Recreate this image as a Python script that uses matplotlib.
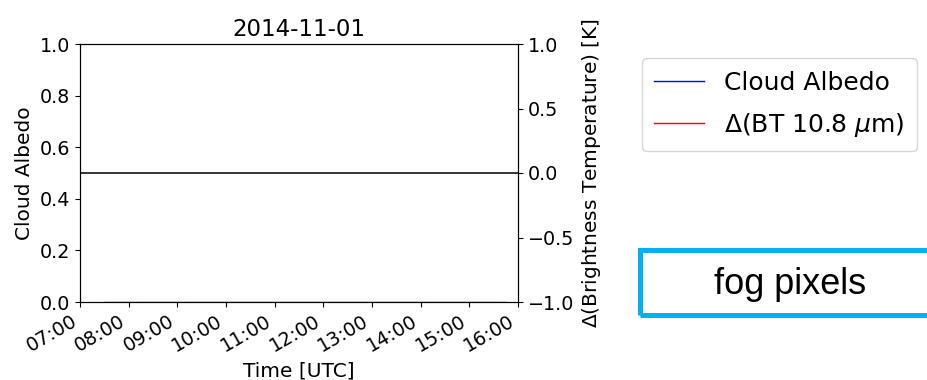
import datetime as dt
import matplotlib
matplotlib.use("Agg")
import matplotlib.pyplot as plt
import matplotlib.dates as mdates
from matplotlib.patches import Rectangle
from matplotlib.lines import Line2D

# ---- data ----
day = "2014-11-01"
obs_times = ["07:30", "07:45", "08:00", "08:15", "08:30", "08:45", "09:00", "09:15",
             "09:30", "09:45", "10:00", "10:15", "10:30", "10:45", "11:00", "11:15",
             "11:30", "11:45", "12:00", "12:15", "12:30", "12:45", "13:00", "13:15",
             "13:30", "13:45", "14:00", "14:15", "14:30", "14:45", "15:00", "15:15",
             "15:30", "15:45"]
cloud_albedo = [0.0] * len(obs_times)
delta_bt = [-1.0] * len(obs_times)
tick_labels = ["07:00", "08:00", "09:00", "10:00", "11:00", "12:00", "13:00",
               "14:00", "15:00", "16:00"]
legend_labels = ["Cloud Albedo", r"$\Delta$(BT 10.8 $\mu$m)"]

def to_dt(hm):
    return dt.datetime.strptime(day + " " + hm, "%Y-%m-%d %H:%M")

t = [to_dt(s) for s in obs_times]
ticks = [to_dt(s) for s in tick_labels]

W, H = 928, 380
fig = plt.figure(figsize=(W / 100, H / 100), dpi=100)
ax = fig.add_axes([80 / W, (H - 302) / H, 438 / W, 258 / H])
ax2 = ax.twinx()

ax.plot(t, cloud_albedo, color="blue", lw=1, alpha=0.5)
ax2.plot(t, delta_bt, color="red", lw=1, alpha=0.5)
ax2.axhline(0.0, color="black", lw=1.1)

ax.set_xlim(ticks[0], ticks[-1])
ax.set_ylim(0, 1)
ax2.set_ylim(-1, 1)
ax.set_yticks([0, 0.2, 0.4, 0.6, 0.8, 1.0])
ax2.set_yticks([-1, -0.5, 0, 0.5, 1.0])
ax.set_xticks(ticks)
ax.xaxis.set_major_formatter(mdates.DateFormatter("%H:%M"))
for lbl in ax.get_xticklabels():
    lbl.set_rotation(30)
    lbl.set_ha("right")
ax.tick_params(labelsize=13.8)
ax2.tick_params(labelsize=13.8)

ax.set_ylabel("Cloud Albedo", fontsize=14.5)
ax2.set_ylabel(r"$\Delta$(Brightness Temperature) [K]", fontsize=14.5)
ax.set_xlabel("Time [UTC]", fontsize=14.5)
ax.set_title(day, fontsize=16.5)

handles = [Line2D([], [], color="blue", lw=1), Line2D([], [], color="red", lw=1)]
fig.legend(handles, legend_labels, loc="upper left",
           bbox_to_anchor=(642 / W, 1 - 58 / H), borderaxespad=0,
           fontsize=18, frameon=True, labelspacing=0.65, borderpad=0.5)

rect = Rectangle((640.5 / W, 1 - 314.5 / H), (940 - 640.5) / W, (314.5 - 249.5) / H,
                 transform=fig.transFigure, fill=False, edgecolor="#00B0F0",
                 linewidth=3.6, clip_on=False)
fig.patches.append(rect)
fig.text(790 / W, 1 - 284 / H, "fog pixels", fontsize=26, family="Liberation Sans",
         ha="center", va="center")

fig.savefig("out.png", dpi=100)
